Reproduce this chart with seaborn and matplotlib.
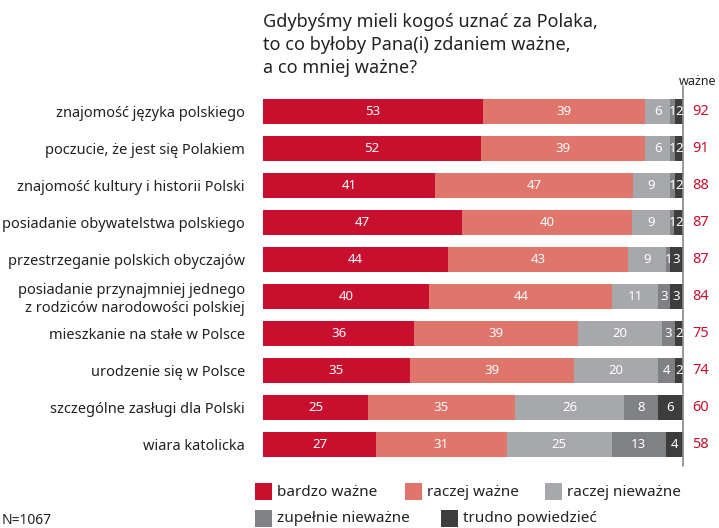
import numpy as np
import pandas as pd
import matplotlib
matplotlib.use("Agg")
import matplotlib.pyplot as plt
from matplotlib.patches import Rectangle
import seaborn as sns

# Values
categories = [
    "znajomość języka polskiego",
    "poczucie, że jest się Polakiem",
    "znajomość kultury i historii Polski",
    "posiadanie obywatelstwa polskiego",
    "przestrzeganie polskich obyczajów",
    "posiadanie przynajmniej jednego\nz rodziców narodowości polskiej",
    "mieszkanie na stałe w Polsce",
    "urodzenie się w Polsce",
    "szczególne zasługi dla Polski",
    "wiara katolicka",
]
bardzo = [53, 52, 41, 47, 44, 40, 36, 35, 25, 27]
raczej = [39, 39, 47, 40, 43, 44, 39, 39, 35, 31]
raczej_nie = [6, 6, 9, 9, 9, 11, 20, 20, 26, 25]
zupelnie_nie = [1, 1, 1, 1, 1, 3, 3, 4, 8, 13]
trudno = [2, 2, 2, 2, 3, 3, 2, 2, 6, 4]
wazne = [92, 91, 88, 87, 87, 84, 75, 74, 60, 58]

series_names = ["bardzo ważne", "raczej ważne", "raczej nieważne",
                "zupełnie nieważne", "trudno powiedzieć"]
colors = ["#c8102e", "#e0756b", "#a7a8ab", "#808184", "#3d3d3d"]

sns.set_style("white")
plt.rcParams['font.family'] = ['Noto Sans', 'DejaVu Sans']

vals = np.array([bardzo, raczej, raczej_nie, zupelnie_nie, trudno], dtype=float)
# bars all end at the same line, so scale each row to 100
scaled = vals / vals.sum(axis=0) * 100
cum = np.cumsum(scaled, axis=0)

fig = plt.figure(figsize=(7.19, 5.28), dpi=100)
ax = fig.add_axes([0.3658, 0.124, 0.584, 0.699])

# draw from the longest cumulative bar down so the segments stack
for k in range(4, -1, -1):
    df = pd.DataFrame({"kategoria": categories, "x": cum[k]})
    sns.barplot(data=df, x="x", y="kategoria", color=colors[k], orient="h",
                width=0.68, saturation=1, ax=ax, linewidth=0)

for i in range(len(categories)):
    for k in range(5):
        left = cum[k, i] - scaled[k, i]
        ax.text(left + scaled[k, i] / 2, i, str(int(vals[k, i])),
                ha="center", va="center", color="white", fontsize=9.5)
    ax.text(104.2, i, str(wazne[i]), ha="center", va="center",
            color="#c8102e", fontsize=10.5, clip_on=False)

ax.axvline(100, color="#888888", lw=1.2, ymin=-0.01, ymax=1.02, clip_on=False)
ax.text(108.0, -0.82, "ważne", ha="right", va="center", fontsize=9,
        color="#222222")

ax.set_xlim(0, 100)
ax.set_ylim(9.5, -0.5)
ax.set_xlabel("")
ax.set_ylabel("")
ax.set_xticks([])
ax.tick_params(axis="y", length=0, pad=13, labelsize=10.5, labelcolor="#222222")
for lab in ax.get_yticklabels():
    lab.set_multialignment("right")
for s in ax.spines.values():
    s.set_visible(False)

fig.text(0.3658, 0.975, "Gdybyśmy mieli kogoś uznać za Polaka,\n"
         "to co byłoby Pana(i) zdaniem ważne,\na co mniej ważne?",
         ha="left", va="top", fontsize=13, color="#222222", linespacing=1.35)

# legend
W, H = 719, 528
legend_items = [(255, 492, 0), (405, 492, 1), (545, 492, 2),
                (255, 519, 3), (441, 519, 4)]
for px, py, k in legend_items:
    fig.patches.append(Rectangle((px / W, 1 - (py + 8) / H), 17 / W, 17 / H,
                                 transform=fig.transFigure,
                                 facecolor=colors[k], edgecolor="none"))
    fig.text((px + 22) / W, 1 - py / H, series_names[k], ha="left",
             va="center", fontsize=11, color="#222222")

fig.text(2 / W, 1 - 520 / H, "N=1067", ha="left", va="center",
         fontsize=10, color="#222222")

fig.savefig("out.png", dpi=100)
